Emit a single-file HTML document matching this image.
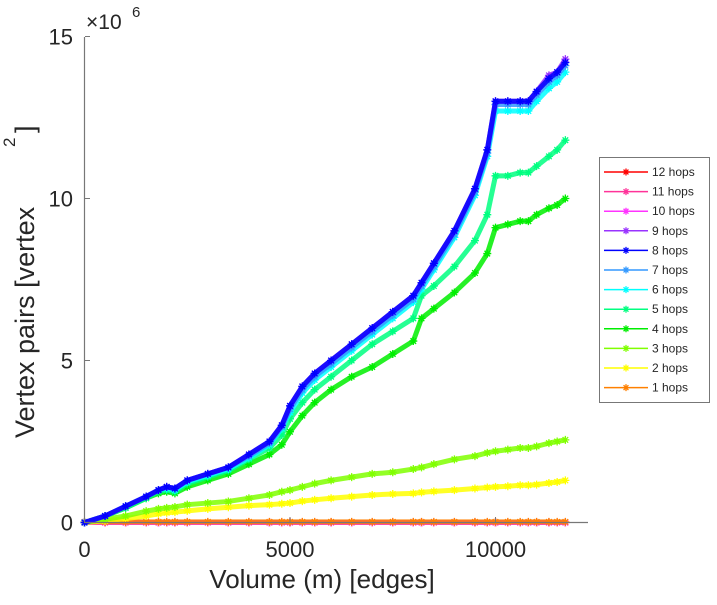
<!DOCTYPE html>
<html><head><meta charset="utf-8"><style>
body{margin:0;background:#fff;}
svg text{font-family:"Liberation Sans",sans-serif;fill:#262626;}
</style></head><body>
<svg id="chart" width="717" height="600" xmlns="http://www.w3.org/2000/svg">
<g id="plot"></g>
<g id="axes">
<line x1="84.5" y1="37" x2="84.5" y2="523" stroke="#777" stroke-width="1.2"/>
<line x1="84" y1="522.5" x2="588" y2="522.5" stroke="#777" stroke-width="1.2"/>
</g>
<g id="ticks"></g>
<text x="86" y="29" font-size="21">×10</text>
<text x="132" y="17" font-size="15">6</text>
<text x="322" y="588" font-size="26" text-anchor="middle">Volume (m) [edges]</text>
<text transform="translate(34,438) rotate(-90)" font-size="27">Vertex pairs [vertex</text>
<text transform="translate(15,147) rotate(-90)" font-size="17">2</text>
<text transform="translate(34,133) rotate(-90)" font-size="27">]</text>
<g id="legend">
<rect x="599.5" y="157.5" width="110" height="245" fill="#fff" stroke="#777"/>
</g>
</svg>
<script>
const names=["12 hops","11 hops","10 hops","9 hops","8 hops","7 hops","6 hops","5 hops","4 hops","3 hops","2 hops","1 hops"];
const colors=["#ff0000","#ff3399","#ff33ff","#9933ff","#0000ff","#3399ff","#00ffff","#00ff80","#00ee00","#80ff00","#ffff00","#ff8000"];
const xVals=[0,500,1000,1500,1800,2000,2200,2500,3000,3500,4000,4500,4800,5000,5300,5600,6000,6500,7000,7500,8000,8200,8500,9000,9500,9800,10000,10300,10600,10800,11000,11300,11500,11700];
const s9=[0,0.2,0.5,0.8,1.0,1.1,1.05,1.3,1.5,1.7,2.1,2.5,3.0,3.6,4.2,4.6,5.0,5.5,6.0,6.5,7.0,7.4,8.0,9.0,10.3,11.5,13.0,13.0,13.0,13.0,13.3,13.8,13.9,14.3];
const s8=[0,0.2,0.5,0.8,1.0,1.1,1.05,1.3,1.5,1.7,2.1,2.5,3.0,3.6,4.2,4.6,5.0,5.5,6.0,6.5,7.0,7.4,8.0,9.0,10.3,11.5,13.0,13.0,13.0,13.0,13.3,13.7,13.9,14.2];
const s7=[0,0.2,0.5,0.8,1.0,1.1,1.05,1.3,1.5,1.7,2.05,2.45,2.95,3.5,4.1,4.5,4.9,5.4,5.9,6.4,6.9,7.3,7.9,8.9,10.2,11.4,12.9,12.9,12.9,12.9,13.2,13.6,13.8,14.1];
const s6=[0,0.2,0.5,0.8,1.0,1.05,1.0,1.25,1.45,1.65,2.0,2.4,2.9,3.4,4.0,4.4,4.8,5.3,5.8,6.3,6.8,7.2,7.8,8.8,10.1,11.3,12.7,12.7,12.7,12.7,13.0,13.4,13.6,13.9];
const s5=[0,0.2,0.45,0.75,0.95,1.0,0.95,1.2,1.4,1.6,1.95,2.3,2.7,3.2,3.7,4.1,4.5,5.0,5.5,5.9,6.3,7.0,7.3,7.9,8.7,9.5,10.7,10.7,10.8,10.8,11.0,11.3,11.5,11.8];
const s4=[0,0.2,0.45,0.75,0.9,0.95,0.9,1.1,1.3,1.5,1.8,2.1,2.4,2.8,3.3,3.7,4.1,4.5,4.8,5.2,5.6,6.3,6.6,7.1,7.7,8.3,9.1,9.2,9.3,9.3,9.5,9.7,9.8,10.0];
const s3=[0,0.1,0.2,0.35,0.42,0.45,0.48,0.55,0.6,0.65,0.75,0.85,0.95,1.0,1.1,1.2,1.3,1.4,1.5,1.55,1.65,1.7,1.8,1.95,2.05,2.15,2.2,2.25,2.3,2.3,2.35,2.45,2.5,2.55];
const s2=[0,0.05,0.12,0.2,0.27,0.3,0.32,0.36,0.42,0.47,0.52,0.55,0.58,0.6,0.66,0.7,0.75,0.8,0.85,0.88,0.9,0.93,0.96,1.0,1.05,1.08,1.1,1.12,1.15,1.15,1.17,1.22,1.25,1.3];
const s1=xVals.map(()=>0.02);
const s0=xVals.map(()=>0);
const series=[s0,s0,s0,s9,s8,s7,s6,s5,s4,s3,s2,s1];
const xTicks=[0,5000,10000];
const yTicks=[0,5,10,15];
const NS="http://www.w3.org/2000/svg";
const X=v=>84.5+v*0.0411;
const Y=v=>522.5-v*32.4;
function mk(tag,attrs,parent){const e=document.createElementNS(NS,tag);for(const k in attrs)e.setAttribute(k,attrs[k]);parent.appendChild(e);return e;}
const plot=document.getElementById('plot');
const order=[0,1,2,11,10,9,8,7,6,5,3,4];
function star(g,cx,cy,c,r){
  const d=`M${cx-r},${cy}L${cx+r},${cy}M${cx},${cy-r}L${cx},${cy+r}M${cx-r*0.7},${cy-r*0.7}L${cx+r*0.7},${cy+r*0.7}M${cx-r*0.7},${cy+r*0.7}L${cx+r*0.7},${cy-r*0.7}`;
  const p=mk('path',{d:d,stroke:c,'stroke-width':1.3,fill:'none'},g);
  
  
}
order.forEach(i=>{
  const g=mk('g',{},plot);
  
  
  const pts=xVals.map((x,j)=>X(x)+','+Y(series[i][j])).join(' ');
  const pl=mk('polyline',{points:pts,fill:'none',stroke:colors[i],'stroke-width':5,'stroke-linejoin':'round','stroke-opacity':0.85},g);
  
  
  xVals.forEach((x,j)=>star(g,X(x),Y(series[i][j]),colors[i],4));
});
const ticks=document.getElementById('ticks');
xTicks.forEach(t=>{
  const l=mk('line',{x1:X(t),x2:X(t),y1:522,y2:517,stroke:'#777'},ticks);
  
  
  const tx=mk('text',{x:X(t),y:557,'font-size':22,'text-anchor':'middle'},ticks);
  tx.textContent=t;
  
  
});
yTicks.forEach(t=>{
  const l=mk('line',{x1:85,x2:90,y1:Y(t),y2:Y(t),stroke:'#777'},ticks);
  
  
  const tx=mk('text',{x:73,y:Y(t)+8,'font-size':22,'text-anchor':'end'},ticks);
  tx.textContent=t;
  
  
});
const leg=document.getElementById('legend');
names.forEach((n,i)=>{
  const y=172+i*19.6;
  const g=mk('g',{},leg);
  
  
  mk('line',{x1:604,x2:648,y1:y,y2:y,stroke:colors[i],'stroke-width':1.5},g);
  star(g,626,y,colors[i],3.5);
  const t=mk('text',{x:652,y:y+4,'font-size':12},g);
  t.textContent=n;
});
</script>
</body></html>
